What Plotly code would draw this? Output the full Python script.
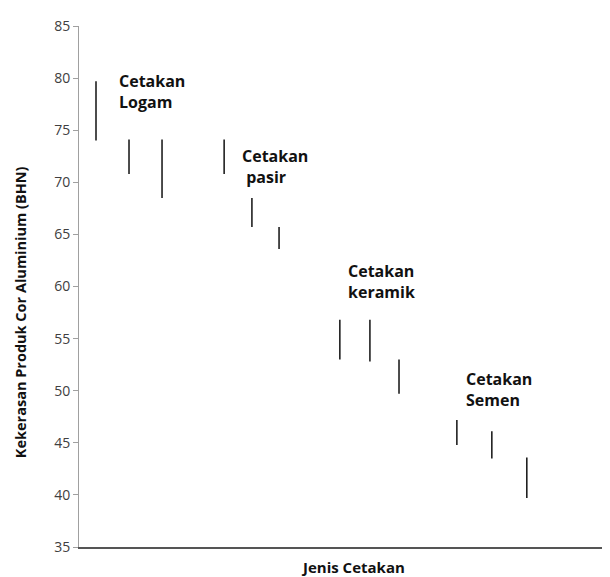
import plotly.graph_objects as go

# Sample positions along the (unlabelled) x axis
x_pos = [0.52, 1.53, 2.54, 4.44, 5.29, 6.12, 7.98, 8.90, 9.79, 11.56, 12.63, 13.70]
# Hardness ranges (BHN)
low = [74.0, 70.8, 68.5, 70.8, 65.7, 63.6, 53.0, 52.8, 49.7, 44.8, 43.5, 39.7]
high = [79.7, 74.1, 74.1, 74.1, 68.5, 65.7, 56.8, 56.8, 53.0, 47.2, 46.1, 43.6]

# Group labels
group_line1 = ["Cetakan", "Cetakan", "Cetakan", "Cetakan"]
group_line2 = ["Logam", "&nbsp;pasir", "keramik", "Semen"]
label_x = [1.16, 4.92, 8.17, 11.78]
label_y = [78.7, 71.5, 60.5, 50.1]

y_ticks = [35, 40, 45, 50, 55, 60, 65, 70, 75, 80, 85]

xs, ys = [], []
for x, lo, hi in zip(x_pos, low, high):
    xs += [x, x, None]
    ys += [lo, hi, None]

fig = go.Figure()
fig.add_trace(go.Scatter(x=xs, y=ys, mode="lines",
                         line=dict(color="#111111", width=1.5),
                         hoverinfo="skip", showlegend=False))

font_family = "Open Sans"
ann = []
for t1, t2, x, y in zip(group_line1, group_line2, label_x, label_y):
    ann.append(dict(text="<b>%s</b><br><b>%s</b>" % (t1, t2), x=x, y=y, xref="x", yref="y",
                    xanchor="left", yanchor="middle", align="left", showarrow=False,
                    font=dict(family=font_family, size=16, color="#111111")))

ann.append(dict(text="<b>Kekerasan Produk Cor Aluminium (BHN)</b>", x=-0.1128, y=0.4508,
                xref="paper", yref="paper", textangle=-90, showarrow=False,
                xanchor="center", yanchor="middle",
                font=dict(family=font_family, size=14.5, color="#111111")))
ann.append(dict(text="<b>Jenis Cetakan</b>", x=0.524, y=-0.0379,
                xref="paper", yref="paper", showarrow=False,
                xanchor="center", yanchor="middle",
                font=dict(family=font_family, size=15, color="#111111")))

# the page body adds an 8px offset, so the figure is sized to compensate
fig.update_layout(
    width=602, height=569,
    margin=dict(l=71, r=8, t=11, b=30),
    paper_bgcolor="white", plot_bgcolor="white",
    annotations=ann,
    font=dict(family=font_family, size=14, color="#404040"),
)
fig.update_xaxes(range=[0, 16], showticklabels=False, showgrid=False, zeroline=False,
                 showline=True, linecolor="#555555", linewidth=2, ticks="")
fig.update_yaxes(range=[35, 85], tickvals=y_ticks, showgrid=False, zeroline=False,
                 showline=True, linecolor="#a0a0a0", linewidth=1,
                 ticks="outside", ticklen=5, tickcolor="#a0a0a0",
                 tickfont=dict(family=font_family, size=14, color="#404040"))

fig.write_html("out.html")
